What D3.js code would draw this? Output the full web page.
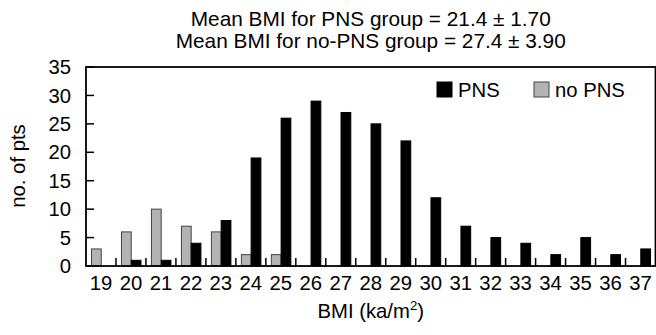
<!DOCTYPE html>
<html><head><meta charset="utf-8">
<script src="https://cdn.jsdelivr.net/npm/d3@7"></script>
<style>body{margin:0;background:#fff}svg{display:block}text{font-family:"Liberation Sans",Arial,sans-serif;fill:#000}</style>
</head><body><svg id="c" width="656" height="335"></svg>
<script>
const categories = ["19","20","21","22","23","24","25","26","27","28","29","30","31","32","33","34","35","36","37"];
const pns   = [0,1,1,4,8,19,26,29,27,25,22,12,7,5,4,2,5,2,3];
const noPns = [3,6,10,7,6,2,2,0,0,0,0,0,0,0,0,0,0,0,0];
const yTicks = [0,5,10,15,20,25,30,35];
const titleLines = ["Mean BMI for PNS group = 21.4 \u00b1 1.70","Mean BMI for no-PNS group = 27.4 \u00b1 3.90"];
const seriesNames = ["PNS","no PNS"];

const svg = d3.select("#c");
const L=86, R=655.5, T=67, B=266;
const fs = 20.3;
const x = d3.scaleBand().domain(categories).range([L,R]).padding(0);
const sub = d3.scaleBand().domain(["no PNS","PNS"]).range([5.5,25]).padding(0);
const y = d3.scaleLinear().domain([0,35]).range([B,T]);

// bars
const rows = categories.map((c,i)=>({c, vals:[{k:"no PNS",v:noPns[i]},{k:"PNS",v:pns[i]}]}));
const g = svg.append("g");
rows.forEach(r=>{
  r.vals.forEach(d=>{
    if(d.v<=0) return;
    g.append("rect")
      .attr("x", x(r.c)+sub(d.k))
      .attr("y", y(d.v))
      .attr("width", sub.bandwidth())
      .attr("height", y(0)-y(d.v))
      .attr("fill", d.k==="PNS" ? "#000" : "#b3b3b3")
      .attr("stroke", d.k==="PNS" ? "#000" : "#444")
      .attr("stroke-width", 1);
  });
});

// bottom inner ticks at category boundaries
categories.slice(1).forEach(c=>{
  svg.append("line").attr("x1",x(c)).attr("x2",x(c)).attr("y1",B).attr("y2",B-8)
    .attr("stroke","#000").attr("stroke-width",1.5);
});
// left inner ticks
yTicks.forEach(t=>{
  svg.append("line").attr("x1",L).attr("x2",L+8).attr("y1",y(t)).attr("y2",y(t))
    .attr("stroke","#000").attr("stroke-width",1.5);
});
// frame
svg.append("rect").attr("x",L).attr("y",T).attr("width",R-L).attr("height",B-T)
  .attr("fill","none").attr("stroke","#000").attr("stroke-width",1.8);

// y tick labels
yTicks.forEach(t=>{
  svg.append("text").attr("x",71).attr("y",y(t)).attr("dy","0.35em")
    .attr("text-anchor","end").attr("font-size",fs).text(t);
});
// x tick labels
categories.forEach(c=>{
  svg.append("text").attr("x",x(c)+x.bandwidth()/2).attr("y",290)
    .attr("text-anchor","middle").attr("font-size",fs).text(c);
});
// axis titles
const xt = svg.append("text").attr("x",(L+R)/2).attr("y",318).attr("text-anchor","middle").attr("font-size",fs);
xt.append("tspan").text("BMI (ka/m");
xt.append("tspan").attr("font-size",fs*0.65).attr("dy",-8).text("2");
xt.append("tspan").attr("dy",8).text(")");
svg.append("text").attr("transform","translate(25,166) rotate(-90)").attr("text-anchor","middle")
  .attr("font-size",fs).text("no. of pts");

// title
titleLines.forEach((t,i)=>{
  svg.append("text").attr("x",(L+R)/2).attr("y",26+i*22).attr("text-anchor","middle")
    .attr("font-size",20.8).text(t);
});

// legend
const leg = [{k:"PNS",x:437,fill:"#000",stroke:"#000"},{k:"no PNS",x:534,fill:"#b3b3b3",stroke:"#444"}];
leg.forEach(l=>{
  svg.append("rect").attr("x",l.x).attr("y",82).attr("width",15).attr("height",15)
    .attr("fill",l.fill).attr("stroke",l.stroke).attr("stroke-width",1);
  svg.append("text").attr("x",l.x+21).attr("y",97).attr("font-size",fs).text(l.k);
});
</script></body></html>
